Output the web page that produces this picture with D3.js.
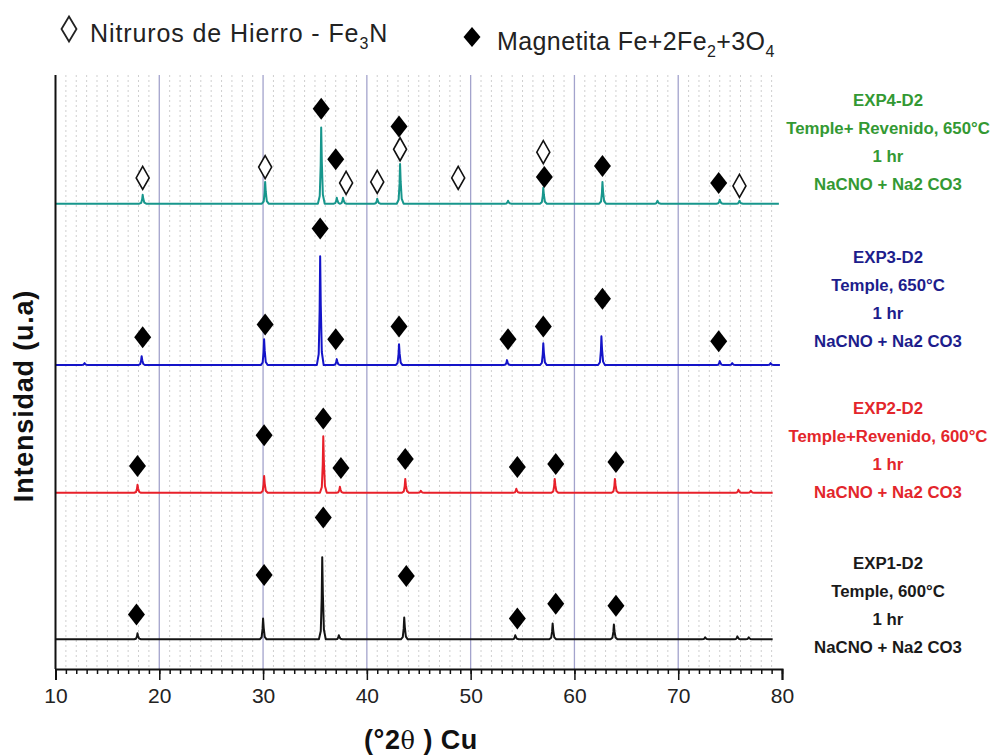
<!DOCTYPE html>
<html>
<head>
<meta charset="utf-8">
<script src="https://cdn.jsdelivr.net/npm/d3@7"></script>
<style>
  body { margin: 0; background: #fff; }
  svg { display: block; font-family: Arial, "Liberation Sans", sans-serif; }
</style>
</head>
<body>
<svg id="chart" width="997" height="756"></svg>
<script>
// ---- data: X-ray diffractograms (Cu K-alpha), offset stacked ----
const xTicks = [10, 20, 30, 40, 50, 60, 70, 80];
const seriesNames = ["EXP1-D2", "EXP2-D2", "EXP3-D2", "EXP4-D2"];
const baseLevels = [30, 178, 307, 470];          // vertical offset of each scan (u.a.)
const scanStart = [10, 10, 10, 10];
const scanEnd = [79.1, 79.1, 79.8, 79.7];

// peaks: [2theta, intensity above the scan's baseline]
const exp1Peaks = [[17.9, 6], [30.0, 21], [35.7, 83], [37.3, 4], [43.6, 22], [54.3, 4],
                   [57.9, 16], [63.8, 15], [72.6, 2], [75.7, 3], [76.8, 2]];
const exp2Peaks = [[17.9, 8], [30.1, 17], [35.8, 57], [37.4, 6], [43.7, 14], [45.2, 2],
                   [54.4, 4], [58.1, 14], [63.9, 14], [75.8, 3], [77.0, 2]];
const exp3Peaks = [[12.8, 2], [18.3, 9], [30.1, 26], [35.5, 110], [37.1, 6], [43.1, 21],
                   [53.5, 5], [57.0, 22], [62.6, 29], [74.0, 4], [75.2, 2], [78.9, 2]];
const exp4Peaks = [[18.4, 9], [30.2, 22], [35.6, 77], [37.1, 6], [37.7, 6], [41.0, 5],
                   [43.2, 40], [53.6, 3], [57.0, 16], [62.7, 22], [68.0, 3], [74.0, 4], [75.9, 3]];

// phase markers: [2theta, intensity level of the marker]
const exp1Magnetite = [[17.8, 55], [30.1, 95], [35.8, 153], [43.8, 94], [54.5, 51], [58.2, 66], [64.0, 64]];
const exp2Magnetite = [[17.9, 205], [30.1, 236], [35.8, 253], [37.5, 203], [43.7, 212], [54.5, 204], [58.2, 207], [64.0, 209]];
const exp3Magnetite = [[18.4, 335], [30.2, 348], [35.5, 445], [37.0, 333], [43.1, 346], [53.6, 333], [57.0, 346], [62.7, 374], [73.9, 331]];
const exp4Magnetite = [[35.6, 566], [37.0, 515], [43.1, 548], [57.1, 497], [62.7, 508], [73.9, 491]];
const exp4Nitride = [[18.4, 496], [30.2, 507], [38.0, 491], [41.0, 492], [43.2, 525], [48.8, 496], [57.0, 522], [75.9, 488]];

const labelLines = [
  ["EXP1-D2", "Temple, 600°C", "1 hr", "NaCNO + Na2 CO3"],
  ["EXP2-D2", "Temple+Revenido, 600°C", "1 hr", "NaCNO + Na2 CO3"],
  ["EXP3-D2", "Temple, 650°C", "1 hr", "NaCNO + Na2 CO3"],
  ["EXP4-D2", "Temple+ Revenido, 650°C", "1 hr", "NaCNO + Na2 CO3"]
];

// ---- style / layout ----
const lineColors = ["#141414", "#e8202a", "#1414c8", "#17968c"];
const labelColors = ["#1a1a1a", "#e3262b", "#1d1d8c", "#339933"];
const labelTopY = [563, 408, 257, 100];
const labelLineGap = 28;
const peakShape = [[-0.32, 0], [-0.14, 0.1], [-0.05, 0.5], [0, 1], [0.06, 0.55], [0.16, 0.12], [0.34, 0]];

const svg = d3.select("#chart");
const x = d3.scaleLinear().domain([10, 80]).range([55.5, 782]);
const y = d3.scaleLinear().domain([0, 600]).range([669, 75]);

// minor dotted grid (every degree)
const grid = svg.append("g");
grid.selectAll("line.minor").data(d3.range(11, 80).filter(d => d % 10 !== 0)).join("line")
  .attr("x1", d => x(d)).attr("x2", d => x(d))
  .attr("y1", y(600)).attr("y2", y(0))
  .attr("stroke", "#cfcfcf").attr("stroke-width", 1).attr("stroke-dasharray", "2,3");
// major grid
grid.selectAll("line.major").data(xTicks.filter(d => d > 10 && d < 80)).join("line")
  .attr("x1", d => x(d)).attr("x2", d => x(d))
  .attr("y1", y(600)).attr("y2", y(0))
  .attr("stroke", "#a3a3cc").attr("stroke-width", 1.3);

// traces
const peakSets = [exp1Peaks, exp2Peaks, exp3Peaks, exp4Peaks];
const line = d3.line().x(d => x(d[0])).y(d => y(d[1]));
peakSets.forEach((peaks, i) => {
  const b = baseLevels[i];
  const pts = [[scanStart[i], b]];
  peaks.forEach(([p, h]) => peakShape.forEach(([dx, f]) => pts.push([p + dx, b + f * h])));
  pts.push([scanEnd[i], b]);
  pts.sort((a, c) => a[0] - c[0]);
  svg.append("path").datum(pts)
    .attr("d", line)
    .attr("fill", "none")
    .attr("stroke", lineColors[i])
    .attr("stroke-width", 2)
    .attr("stroke-linejoin", "round");
});

// markers
const diamond = (w, h) => `M0,${-h / 2}L${w / 2},0L0,${h / 2}L${-w / 2},0Z`;
const filledSets = [exp1Magnetite, exp2Magnetite, exp3Magnetite, exp4Magnetite];
filledSets.forEach(set => {
  svg.append("g").selectAll("path").data(set).join("path")
    .attr("transform", d => `translate(${x(d[0])},${y(d[1])})`)
    .attr("d", diamond(17, 22))
    .attr("fill", "#000");
});
svg.append("g").selectAll("path").data(exp4Nitride).join("path")
  .attr("transform", d => `translate(${x(d[0])},${y(d[1])})`)
  .attr("d", diamond(13, 23))
  .attr("fill", "#fff").attr("stroke", "#111").attr("stroke-width", 1.6);

// axes
const xAxisMinor = d3.axisBottom(x).tickValues(d3.range(10, 81)).tickSize(5).tickFormat("");
const xAxisMajor = d3.axisBottom(x).tickValues(xTicks).tickSize(11).tickPadding(8).tickFormat(d3.format("d"));
const gMinor = svg.append("g").attr("transform", `translate(0,${y(0)})`).call(xAxisMinor);
gMinor.select(".domain").remove();
gMinor.selectAll("line").attr("stroke", "#111").attr("stroke-width", 1.5);
const gx = svg.append("g").attr("transform", `translate(0,${y(0)})`).call(xAxisMajor);
gx.select(".domain").attr("stroke", "#111").attr("stroke-width", 2);
gx.selectAll("line").attr("stroke", "#111").attr("stroke-width", 1.5);
gx.selectAll("text").attr("font-size", 21).attr("fill", "#222").attr("font-family", "Arial, 'Liberation Sans', sans-serif");

svg.append("line")
  .attr("x1", x(10)).attr("x2", x(10)).attr("y1", y(600)).attr("y2", y(0))
  .attr("stroke", "#111").attr("stroke-width", 2);

// axis titles
svg.append("text")
  .attr("transform", `translate(33,${(y(0) + y(600)) / 2 + 24}) rotate(-90)`)
  .attr("text-anchor", "middle")
  .attr("font-size", 27).attr("font-weight", "bold").attr("fill", "#111")
  .attr("letter-spacing", 0.8)
  .text("Intensidad (u.a)");

const xt = svg.append("text")
  .attr("x", 421).attr("y", 749)
  .attr("text-anchor", "middle")
  .attr("font-size", 27).attr("font-weight", "bold").attr("fill", "#111")
  .attr("letter-spacing", 0.5);
xt.append("tspan").text("(°2");
xt.append("tspan").attr("font-weight", "normal").attr("font-family", "'DejaVu Serif', serif").attr("font-size", 24).text("θ");
xt.append("tspan").text(" ) Cu");

// sample labels
labelLines.forEach((lines, i) => {
  svg.append("g").selectAll("text").data(lines).join("text")
    .attr("x", 888)
    .attr("y", (d, k) => labelTopY[i] + k * labelLineGap + 6)
    .attr("text-anchor", "middle")
    .attr("font-size", 16.8).attr("font-weight", "bold")
    .attr("fill", labelColors[i])
    .text(d => d);
});

// legend
svg.append("path").attr("transform", "translate(69,29)").attr("d", diamond(15, 25))
  .attr("fill", "#fff").attr("stroke", "#222").attr("stroke-width", 1.8);
const l1 = svg.append("text").attr("x", 90).attr("y", 42).attr("font-size", 25)
  .attr("letter-spacing", 0.9).attr("fill", "#222");
l1.append("tspan").text("Nitruros de Hierro - Fe");
l1.append("tspan").attr("font-size", 16).attr("dy", 7).text("3");
l1.append("tspan").attr("dy", -7).text("N");

svg.append("path").attr("transform", "translate(472,37)").attr("d", diamond(17, 20)).attr("fill", "#000");
const l2 = svg.append("text").attr("x", 497).attr("y", 50).attr("font-size", 25)
  .attr("letter-spacing", 0.4).attr("fill", "#222");
l2.append("tspan").text("Magnetita Fe+2Fe");
l2.append("tspan").attr("font-size", 16).attr("dy", 7).text("2");
l2.append("tspan").attr("dy", -7).text("+3O");
l2.append("tspan").attr("font-size", 16).attr("dy", 7).text("4");
</script>
</body>
</html>
